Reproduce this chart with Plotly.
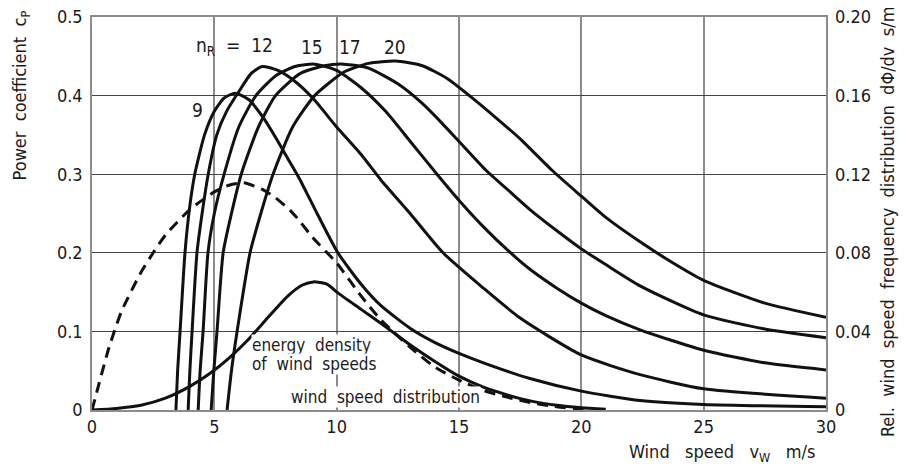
import plotly.graph_objects as go

# ---- data ----
# power coefficient curves c_P(v) for design values n_R
v9 = [3.43, 3.5, 3.6, 3.8, 4.0, 4.2, 4.6, 5.0, 5.4, 5.85, 6.4, 7.0, 7.5, 8.0, 8.5, 9.2, 10.05, 11.0, 11.8, 13.0, 14.0, 15.0, 16.0, 17.9, 20.0, 22.4, 25.0, 30.0]
cp9 = [0.0, 0.05, 0.10, 0.20, 0.26, 0.30, 0.35, 0.38, 0.397, 0.403, 0.395, 0.372, 0.347, 0.32, 0.293, 0.25, 0.20, 0.16, 0.133, 0.104, 0.086, 0.072, 0.060, 0.040, 0.024, 0.012, 0.007, 0.004]

v12 = [3.93, 4.0, 4.09, 4.29, 4.5, 4.75, 5.1, 5.5, 6.0, 6.5, 6.95, 7.6, 8.3, 9.05, 10.0, 11.0, 11.8, 13.0, 14.35, 16.0, 17.5, 20.0, 22.4, 25.0, 30.0]
cp12 = [0.0, 0.05, 0.10, 0.20, 0.25, 0.30, 0.35, 0.38, 0.405, 0.428, 0.437, 0.432, 0.418, 0.396, 0.36, 0.325, 0.293, 0.25, 0.20, 0.155, 0.117, 0.07, 0.045, 0.027, 0.015]

v15 = [4.34, 4.42, 4.54, 4.74, 5.0, 5.4, 6.0, 6.7, 7.5, 8.3, 9.1, 10.0, 11.0, 12.0, 13.0, 14.1, 15.05, 16.0, 17.0, 17.9, 19.0, 20.0, 21.0, 22.4, 25.0, 27.5, 30.0]
cp15 = [0.0, 0.05, 0.10, 0.20, 0.25, 0.30, 0.36, 0.40, 0.425, 0.437, 0.44, 0.432, 0.41, 0.38, 0.342, 0.30, 0.265, 0.233, 0.203, 0.179, 0.155, 0.136, 0.12, 0.102, 0.076, 0.060, 0.051]

v17 = [4.87, 4.98, 5.11, 5.36, 5.7, 6.1, 6.8, 7.5, 8.5, 9.5, 10.3, 11.3, 12.5, 13.5, 14.3, 15.05, 16.1, 17.0, 17.9, 19.0, 20.0, 21.0, 22.4, 25.0, 27.5, 30.0]
cp17 = [0.0, 0.05, 0.10, 0.20, 0.25, 0.30, 0.36, 0.40, 0.428, 0.438, 0.44, 0.435, 0.415, 0.39, 0.365, 0.34, 0.305, 0.28, 0.255, 0.228, 0.205, 0.185, 0.158, 0.121, 0.103, 0.092]

v20 = [5.52, 5.7, 5.93, 6.46, 6.9, 7.4, 8.2, 9.1, 10.3, 11.3, 12.4, 13.5, 14.5, 15.5, 16.5, 17.5, 18.8, 20.0, 21.0, 22.4, 23.7, 25.0, 27.5, 30.0]
cp20 = [0.0, 0.05, 0.10, 0.20, 0.25, 0.30, 0.36, 0.40, 0.43, 0.441, 0.444, 0.438, 0.422, 0.398, 0.372, 0.345, 0.305, 0.272, 0.245, 0.214, 0.188, 0.165, 0.136, 0.118]

# wind speed distribution dPhi/dv (right axis, s/m)
v_dist = [0.0, 0.3, 0.7, 1.2, 2.0, 2.5, 3.0, 4.0, 5.0, 5.6, 6.2, 7.0, 7.5, 8.1, 8.5, 9.0, 10.0, 11.0, 11.8, 13.0, 14.0, 15.0, 16.0, 17.0, 18.0, 19.0, 20.0, 20.4]
f_dist = [0.0, 0.014, 0.032, 0.050, 0.070, 0.080, 0.089, 0.102, 0.111, 0.1144, 0.1156, 0.112, 0.108, 0.1016, 0.096, 0.088, 0.0748, 0.058, 0.046, 0.032, 0.022, 0.0152, 0.010, 0.0064, 0.0036, 0.0016, 0.0004, 0.0]

# energy density of wind speeds (right axis scale)
v_en = [0.0, 1.0, 2.0, 3.0, 4.0, 4.8, 5.6, 6.4, 7.2, 8.0, 8.6, 9.05, 9.6, 10.05, 11.0, 12.0, 13.0, 14.0, 15.0, 16.0, 17.0, 18.0, 19.0, 20.0, 21.0]
e_en = [0.0, 0.0008, 0.0024, 0.006, 0.012, 0.0184, 0.0264, 0.036, 0.0472, 0.058, 0.0636, 0.0652, 0.064, 0.0596, 0.0512, 0.0424, 0.0332, 0.0248, 0.0172, 0.0116, 0.0076, 0.0044, 0.0024, 0.0012, 0.0004]

x_ticks = [0, 5, 10, 15, 20, 25, 30]
y_ticks = [0, 0.1, 0.2, 0.3, 0.4, 0.5]
y_tick_text = ["0", "0.1", "0.2", "0.3", "0.4", "0.5"]
y2_ticks = [0, 0.04, 0.08, 0.12, 0.16, 0.20]
y2_tick_text = ["0", "0.04", "0.08", "0.12", "0.16", "0.20"]

FONT = "DejaVu Sans Condensed, Liberation Sans Narrow, Roboto Condensed, Arial Narrow, sans-serif"
BLACK = "#111111"
TXT = "#1a1a1a"
SP = "\u00a0"

fig = go.Figure()
for vx, cy in [(v9, cp9), (v12, cp12), (v15, cp15), (v17, cp17), (v20, cp20)]:
    fig.add_trace(go.Scatter(x=vx, y=cy, mode="lines",
                             line=dict(color=BLACK, width=3, shape="spline", smoothing=0.6),
                             showlegend=False, hoverinfo="skip"))
fig.add_trace(go.Scatter(x=v_dist, y=f_dist, mode="lines", yaxis="y2",
                         line=dict(color=BLACK, width=3, dash="11px,7px", shape="spline", smoothing=0.6),
                         showlegend=False, hoverinfo="skip"))
fig.add_trace(go.Scatter(x=v_en, y=e_en, mode="lines", yaxis="y2",
                         line=dict(color=BLACK, width=3, shape="spline", smoothing=0.6),
                         showlegend=False, hoverinfo="skip"))

fig.update_layout(
    width=901, height=462,
    margin=dict(l=84, r=83, t=9, b=60, autoexpand=False),
    paper_bgcolor="white", plot_bgcolor="white",
    font=dict(family=FONT, size=17, color=TXT),
    xaxis=dict(range=[0, 30], tickvals=x_ticks, ticks="", showgrid=True,
               gridcolor="#8c8c8c", gridwidth=1.5, showline=True, linecolor="#8c8c8c",
               linewidth=1.5, mirror=True, zeroline=False, tickfont=dict(size=18),
               ticklabeloverflow="allow", ticklabelstandoff=0),
    yaxis=dict(range=[0, 0.5], tickvals=y_ticks, ticktext=y_tick_text, ticks="",
               showgrid=True, gridcolor="#444", gridwidth=1, showline=True,
               linecolor="#8c8c8c", linewidth=1.5, mirror=True, zeroline=False,
               tickfont=dict(size=18), ticklabeloverflow="allow", ticklabelstandoff=4),
    yaxis2=dict(range=[0, 0.2], tickvals=y2_ticks, ticktext=y2_tick_text, ticks="",
                overlaying="y", side="right", showgrid=False, zeroline=False,
                showline=False, tickfont=dict(size=18), ticklabeloverflow="allow",
                ticklabelstandoff=8),
)

ann = []
def txt(x, y, text, size=17, xanchor="left", bg="white"):
    ann.append(dict(x=x, y=y, xref="x", yref="y", text=text, showarrow=False,
                    xanchor=xanchor, yanchor="middle", bgcolor=bg,
                    font=dict(family=FONT, size=size, color=TXT), borderpad=0))

txt(4.2, 0.462, "n<sub>R</sub>" + SP * 2 + "=" + SP * 2 + "12", size=19, bg="rgba(0,0,0,0)")
txt(9.0, 0.462, "15", size=19, xanchor="center", bg="rgba(0,0,0,0)")
txt(10.55, 0.462, "17", size=19, xanchor="center", bg="rgba(0,0,0,0)")
txt(12.4, 0.462, "20", size=19, xanchor="center", bg="rgba(0,0,0,0)")
txt(4.3, 0.382, "9", size=19, xanchor="center", bg="rgba(0,0,0,0)")
txt(6.5, 0.083, "energy" + SP * 2 + "density")
txt(6.5, 0.059, "of" + SP * 2 + "wind" + SP * 2 + "speeds")
txt(8.1, 0.0165, "wind" + SP * 2 + "speed" + SP * 2 + "distribution")

ann.append(dict(x=-0.097, y=0.80, xref="paper", yref="paper", textangle=-90,
                xanchor="center", yanchor="middle",
                text="Power" + SP * 2 + "coefficient" + SP * 2 + "c<sub>P</sub>", showarrow=False,
                font=dict(family=FONT, size=18, color=TXT)))
ann.append(dict(x=1.083, y=0.478, xref="paper", yref="paper", textangle=-90,
                xanchor="center", yanchor="middle",
                text=("Rel." + SP * 2 + "wind" + SP * 2 + "speed" + SP * 2 + "frequency" + SP * 2 +
                      "distribution" + SP * 2 + "dΦ/dv" + SP * 2 + "s/m"),
                showarrow=False, font=dict(family=FONT, size=18, color=TXT)))
ann.append(dict(x=0.858, y=-0.11, xref="paper", yref="paper",
                xanchor="center", yanchor="middle",
                text="Wind" + SP * 3 + "speed" + SP * 3 + "v<sub>W</sub>" + SP * 3 + "m/s", showarrow=False,
                font=dict(family=FONT, size=18, color=TXT)))
fig.update_layout(annotations=ann)

fig.write_html("out.html")
